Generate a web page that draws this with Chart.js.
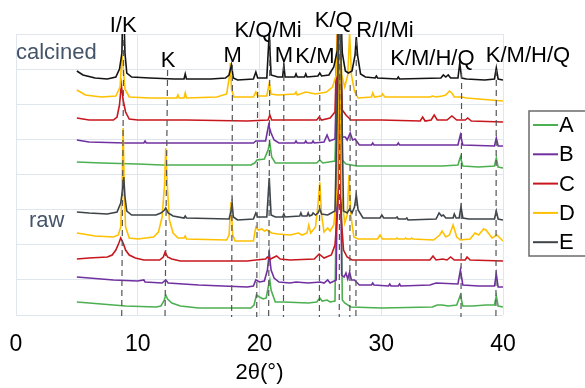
<!DOCTYPE html>
<html>
<head>
<meta charset="utf-8">
<script src="https://cdn.jsdelivr.net/npm/chart.js@4.4.0/dist/chart.umd.min.js"></script>
<style>
  html, body { margin: 0; padding: 0; background: #fff; }
  #wrap { width: 585px; height: 388px; }
</style>
</head>
<body>
<div id="wrap"><canvas id="xrd"></canvas></div>
<script>
// 2θ ticks
const xTicks = [0, 10, 20, 30, 40];

// series names (legend)
const seriesNames = ['A', 'B', 'C', 'D', 'E'];

// calcined patterns, [2θ, offset intensity]
const calcinedE = [[5,244],[5.5,240],[6.5,237],[7.5,236],[8.2,238],[8.5,246],[8.7,262],[8.8,330],[8.95,262],[9.1,242],[9.5,238],[11,237],[13,236],[13.8,236],[13.9,241],[14.0,236],[16,236],[17.2,237],[17.5,240],[17.7,250],[17.85,237],[18.2,235],[19.5,236],[19.7,243],[19.85,237],[20.6,237],[20.8,282],[20.95,240],[21.5,238],[21.9,238],[22.0,250],[22.1,238],[22.9,238],[23.0,241],[23.1,238],[23.7,238],[23.8,241],[23.9,238],[24.8,239],[24.95,242],[25.1,239],[25.7,240],[26.1,248],[26.4,265],[26.6,330],[26.8,262],[27.05,244],[27.3,242],[27.6,244],[27.85,260],[27.95,278],[28.05,260],[28.3,241],[28.7,238],[29.5,237],[29.6,239],[29.7,237],[31.3,236],[31.4,238],[31.5,236],[34.9,237],[35.1,240],[35.3,238],[35.5,240],[35.7,237],[36.3,237],[36.45,252],[36.6,237],[37,236],[38.5,235],[39.3,236],[39.45,247],[39.6,236],[40,235]];
const calcinedD = [[5,225],[5.7,220],[7,218],[8.2,219],[8.55,228],[8.7,260],[8.8,248],[8.95,226],[9.3,218],[11,217],[13.2,217],[13.3,220],[13.4,217],[13.8,217],[13.9,222],[14.0,217],[16.5,218],[17.3,221],[17.5,236],[17.6,252],[17.7,226],[17.9,218],[19.5,218],[19.7,223],[19.85,219],[20.6,219],[20.8,232],[20.95,221],[21.5,220],[22.9,221],[23.0,223],[23.1,220],[23.8,223],[24.6,221],[25.5,223],[26.0,228],[26.3,240],[26.5,330],[26.75,240],[27.0,228],[27.25,240],[27.4,282],[27.55,240],[27.8,224],[28.1,217],[29.2,218],[29.3,222],[29.45,218],[30.0,219],[30.1,221],[30.3,218],[34.0,218],[34.2,219],[34.5,218],[35.0,219],[35.3,220],[35.6,224],[35.8,222],[36.0,218],[36.6,218],[37,217],[38,216],[40,214]];
const calcinedC = [[5,197],[6,195],[8.0,195],[8.3,198],[8.5,210],[8.65,230],[8.8,215],[9.0,203],[9.3,196],[10,195],[14,195],[19,194],[20.7,195],[20.85,200],[21.0,195],[22,195],[24.7,195],[24.9,198],[25.1,195],[25.8,197],[26.2,203],[26.5,330],[26.8,205],[27.1,200],[27.5,195],[30,195],[33.2,194],[33.4,198],[33.6,194],[34.1,195],[34.35,200],[34.6,195],[35.4,195],[35.8,199],[36.2,195],[36.9,195],[37.1,197],[37.4,194],[40,193]];
const calcinedB = [[5,175],[6,173],[9,172],[10.5,172],[10.6,174],[10.7,172],[15,172],[19.5,172],[19.7,174],[20.5,174],[20.75,190],[20.95,182],[21.2,175],[21.6,172],[22.9,172],[23.0,174],[23.1,172],[23.7,172],[23.8,174],[23.9,172],[24.3,172],[24.4,174],[24.5,172],[25.3,173],[25.55,180],[25.75,174],[26.2,176],[26.55,330],[26.8,178],[27.05,178],[27.2,175],[27.45,182],[27.65,175],[27.85,176],[28.2,170],[29.2,170],[29.3,172],[29.4,170],[31.3,170],[31.4,172],[31.5,170],[36.3,170],[36.5,180],[36.7,170],[39.3,169],[39.45,177],[39.6,169],[40,169]];
const calcinedA = [[5,153],[7,152],[10,151],[12,150],[16,150],[19.3,150],[19.6,152],[19.8,155],[20.4,156],[20.7,165],[20.85,172],[21.0,158],[21.3,152],[22,152],[24.7,152],[24.95,155],[25.2,152],[26.2,154],[26.6,330],[26.8,155],[27.1,151],[28,149],[35,149],[36.3,150],[36.5,158],[36.7,149],[38,148],[39.3,149],[39.45,157],[39.6,148],[40,147]];

// raw patterns
const rawE = [[5,103],[6,102],[7.5,101],[8.3,103],[8.6,112],[8.75,125],[8.85,138],[8.95,118],[9.1,104],[9.5,100],[11.5,100],[11.9,102],[12.2,105],[12.3,107],[12.5,102],[12.9,99],[13.8,97],[13.9,99],[14.0,97],[17.5,96],[17.65,103],[17.75,112],[17.85,98],[18.2,95],[19.5,96],[19.7,102],[19.85,98],[20.6,98],[20.8,137],[20.95,100],[21.3,98],[21.9,98],[22.0,101],[22.1,98],[23.3,99],[23.4,102],[23.5,99],[23.9,99],[24.0,102],[24.1,99],[24.3,100],[24.4,102],[24.6,100],[24.8,102],[24.95,106],[25.1,101],[25.6,100],[26.2,104],[26.6,330],[26.9,104],[27.2,102],[27.4,106],[27.6,102],[27.8,108],[27.95,120],[28.1,105],[28.5,97],[29.9,97],[30.05,100],[30.2,97],[31.2,97],[31.3,98],[31.4,96],[32.0,96],[32.1,97],[32.2,95],[34.5,96],[34.75,102],[34.95,99],[35.1,100],[35.3,97],[35.9,97],[36.0,101],[36.15,97],[36.4,97],[36.55,108],[36.7,97],[37.2,96],[39.3,96],[39.45,104],[39.6,96],[40,95]];
const rawD = [[5,82],[6.5,79],[8.0,78],[8.4,80],[8.6,88],[8.7,120],[8.8,187],[8.9,120],[9.0,88],[9.3,77],[10,76],[11.3,78],[11.7,83],[12.0,98],[12.2,130],[12.3,167],[12.45,125],[12.6,95],[12.9,82],[13.3,77],[13.8,77],[13.9,79],[14.0,76],[17.3,75],[17.5,80],[17.65,113],[17.8,80],[18.0,74],[19.5,74],[19.7,88],[19.9,85],[20.2,86],[20.4,84],[20.6,85],[21.0,82],[21.5,81],[22.5,80],[23.2,82],[23.5,80],[23.9,82],[24.05,90],[24.2,82],[24.6,88],[24.8,110],[24.95,133],[25.1,100],[25.3,83],[25.6,87],[25.8,84],[26.1,90],[26.4,130],[26.55,330],[26.75,120],[27.0,92],[27.2,100],[27.35,140],[27.5,100],[27.75,78],[28.1,76],[29.7,76],[29.9,80],[30.1,76],[31.2,76],[31.3,77],[31.4,76],[31.9,76],[32.0,77],[32.1,76],[32.4,76],[32.5,77],[32.6,76],[34.3,75],[34.8,80],[35.0,84],[35.3,78],[35.6,80],[35.9,90],[36.2,78],[36.5,75],[37.3,76],[37.7,82],[38.0,80],[38.4,86],[38.6,85],[39.1,77],[39.5,80],[40,74]];
const rawC = [[5,56],[6,57],[7.5,58],[7.9,60],[8.2,65],[8.45,72],[8.6,77],[8.8,72],[9.0,65],[9.3,60],[9.8,57],[10.5,55],[11.8,55],[12.1,58],[12.25,63],[12.45,58],[12.8,56],[13.5,54],[19,54],[19.7,55],[20.5,56],[20.65,58],[20.9,56],[21.4,59],[21.7,56],[22.5,55],[24.5,56],[24.9,61],[25.3,57],[25.9,60],[26.2,70],[26.45,110],[26.55,330],[26.7,100],[26.9,65],[27.2,58],[27.6,55],[30,55],[34.0,55],[34.25,59],[34.5,55],[35.05,56],[35.4,55],[35.7,58],[36.0,55],[36.9,55],[37.05,58],[37.3,55],[40,54]];
const rawB = [[5,38],[6,37],[8,35],[10,34],[10.5,35],[10.6,33],[12,32],[12.3,35],[12.5,32],[15,30],[19,28],[19.5,29],[19.7,35],[20.0,33],[20.4,34],[20.65,45],[20.8,62],[20.95,45],[21.2,37],[21.6,33],[22.5,32],[23.0,33],[24,32],[25.0,33],[25.3,32],[25.6,35],[25.8,32],[26.3,35],[26.55,330],[26.75,40],[26.95,38],[27.1,42],[27.25,36],[27.4,43],[27.55,35],[27.8,35],[28.2,30],[29.2,30],[29.3,32],[29.4,30],[30.6,29],[30.7,31],[30.8,29],[31.4,29],[31.5,31],[31.6,29],[34,30],[34.5,32],[36.3,31],[36.5,45],[36.7,30],[38,29],[39.3,29],[39.45,41],[39.6,28],[40,28]];
const rawA = [[5,13],[7,11],[9,9],[11.5,8],[11.9,9],[12.15,14],[12.3,20],[12.45,16],[12.8,12],[13.5,9],[15,7],[19.3,7],[19.55,10],[19.75,20],[20.0,18],[20.3,16],[20.55,17],[20.75,30],[20.85,35],[20.95,25],[21.3,13],[22,13],[24,12],[24.7,13],[24.95,17],[25.15,14],[25.55,15],[25.8,13],[26.2,14],[26.55,330],[26.8,15],[27.0,12],[27.5,8],[30,7],[34.2,8],[34.6,10],[35.0,10],[35.5,9],[36.2,10],[36.5,20],[36.7,9],[37.5,9],[38.6,10],[39.3,10],[39.45,19],[39.6,9],[40,8]];

// reference peak lines: 2θ at top, 2θ at bottom, top intensity
const peakTop2t = [8.85, 12.45, 17.78, 19.85, 20.85, 22.0, 24.95, 26.6, 27.45, 27.95, 36.6, 39.45];
const peakBot2t = [8.68, 12.24, 17.71, 19.77, 20.75, 21.97, 24.92, 26.55, 27.42, 27.92, 36.55, 39.42];
const peakTopVal = [275, 245, 250, 233, 275, 250, 230, 281, 230, 275, 242, 245];

// peak labels
const peakLabels = ['I/K', 'K', 'M', 'K/Q/Mi', 'M', 'K/M', 'K/Q', 'R/I/Mi', 'K/M/H/Q', 'K/M/H/Q'];
const peakLabel2t = [8.8, 12.5, 17.8, 20.7, 22.0, 24.55, 26.1, 30.3, 34.2, 42.05];
const peakLabelY = [32, 67, 62, 37, 62, 63, 27, 37, 65, 62];

const colA = '#4caf50', colB = '#7030a0', colC = '#c8161d', colD = '#ffc000';
const colE = '#3d4449', colEcal = '#141414';
const seriesColors = [colA, colB, colC, colD, colE];

const toPts = arr => arr.map(p => ({ x: p[0], y: p[1] }));
const trace = (d, c) => ({
  data: toPts(d), borderColor: c, borderWidth: 1.6, pointRadius: 0,
  tension: 0, fill: false
});

const datasets = [];
// dashed reference lines drawn on top
peakTop2t.forEach((x, i) => {
  datasets.push({
    data: [{ x: x, y: peakTopVal[i] }, { x: peakBot2t[i], y: -2 }],
    borderColor: '#555', borderWidth: 1.2, borderDash: [6, 4],
    pointRadius: 0, tension: 0, fill: false, clip: 4
  });
});
// first dataset ends up on top
datasets.push(trace(rawE, colE), trace(rawD, colD), trace(rawC, colC),
  trace(rawB, colB), trace(rawA, colA));
datasets.push(trace(calcinedE, colEcal), trace(calcinedD, colD), trace(calcinedC, colC),
  trace(calcinedB, colB), trace(calcinedA, colA));

const FONT = '"Liberation Sans", Arial, sans-serif';

// labels, side texts, axis title and framed legend
const decorations = {
  id: 'decorations',
  afterDraw(chart) {
    const ctx = chart.ctx;
    const xs = chart.scales.x;
    ctx.save();
    ctx.font = '22px ' + FONT;
    ctx.textBaseline = 'alphabetic';
    ctx.textAlign = 'center';
    ctx.fillStyle = '#000';
    peakLabels.forEach((t, i) => {
      ctx.fillText(t, xs.getPixelForValue(peakLabel2t[i]), peakLabelY[i]);
    });
    ctx.textBaseline = 'middle';
    ctx.fillText('2θ(°)', (chart.chartArea.left + chart.chartArea.right) / 2, 373);
    ctx.textBaseline = 'alphabetic';
    ctx.textAlign = 'left';
    ctx.fillStyle = '#44546a';
    ctx.fillText('calcined', 16, 59);
    ctx.fillText('raw', 29, 227);

    // legend
    ctx.fillStyle = '#fff';
    ctx.fillRect(529, 111, 70, 145);
    ctx.strokeStyle = '#6b6b6b';
    ctx.lineWidth = 1.5;
    ctx.strokeRect(529, 111, 70, 145);
    seriesNames.forEach((n, i) => {
      const y = 125 + i * 29.3;
      ctx.strokeStyle = seriesColors[i];
      ctx.lineWidth = 2;
      ctx.beginPath();
      ctx.moveTo(533, y);
      ctx.lineTo(558, y);
      ctx.stroke();
      ctx.fillStyle = '#000';
      ctx.textBaseline = 'middle';
      ctx.fillText(n, 559, y + 1);
    });
    ctx.restore();
  }
};

new Chart(document.getElementById('xrd'), {
  type: 'line',
  data: { datasets },
  plugins: [decorations],
  options: {
    responsive: true,
    maintainAspectRatio: false,
    animation: false,
    layout: { autoPadding: false, padding: { left: 16, right: 82, top: 34, bottom: 0 } },
    plugins: { legend: { display: false }, tooltip: { enabled: false } },
    scales: {
      x: {
        type: 'linear', min: 0, max: 40,
        afterBuildTicks: axis => { axis.ticks = xTicks.map(v => ({ value: v })); },
        afterFit: axis => { axis.height = 73; axis.paddingLeft = 0; axis.paddingRight = 0; },
        grid: { color: '#dfe6ee', lineWidth: 1, drawTicks: false },
        border: { display: false },
        ticks: { font: { size: 23, family: FONT }, color: '#000', padding: 16, maxRotation: 0 }
      },
      y: {
        min: 0, max: 281,
        afterFit: axis => { axis.width = 0; },
        ticks: { display: false, stepSize: 35.125 },
        grid: { color: '#dfe6ee', lineWidth: 1, drawTicks: false },
        border: { display: false }
      }
    }
  }
});
</script>
</body>
</html>
